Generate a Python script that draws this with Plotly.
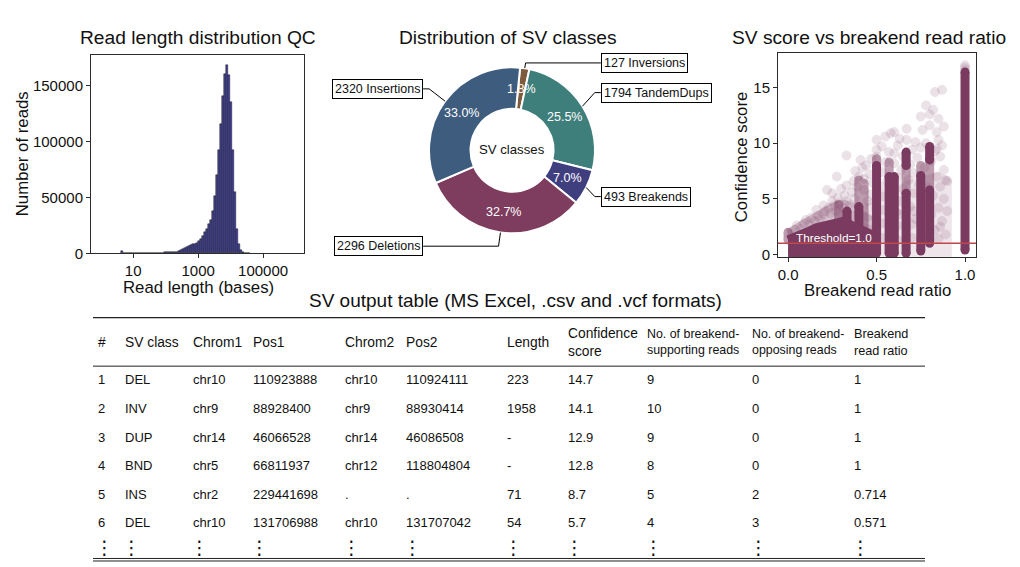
import math
import plotly.graph_objects as go

W, H = 1020, 567
FIG_H = 576  # page height; the photographed page is scaled back to 567 px
FONT = "Liberation Sans, Arial, sans-serif"

# ---------------- data ----------------
# Read-length histogram (bins in log10(bases))
hist_bin_start_log10 = 0.666
hist_bin_width_log10 = 0.062
hist_counts = [1800, 400, 300, 500, 450, 500, 550, 500, 550, 600,
               600, 650, 600, 650, 700, 650, 700, 700, 750, 700,
               750, 800, 850, 900, 1000, 1100, 1300, 1600, 2000, 2700,
               3600, 4700, 5500, 6500, 7200, 8000, 8700, 9500, 10800, 12500,
               15500, 19000, 22000, 26000, 30000, 38000, 51000, 70000, 92000, 115000,
               140000, 160000, 168000, 159000, 135000, 92000, 55000, 22000, 8000, 3000,
               1000, 400, 200, 100]
hist_tick_log10 = [1, 3, 5]
hist_y_ticks = [0, 50000, 100000, 150000]

# SV classes
sv_labels = ["Inversions", "TandemDups", "Breakends", "Deletions", "Insertions"]
sv_counts = [127, 1794, 493, 2296, 2320]

# Score vs breakend read ratio
threshold = 1.0
core_ratio = [0.0, 0.04, 0.08, 0.12, 0.16, 0.20, 0.24, 0.28, 0.32, 0.36, 0.40, 0.44, 0.47]
core_top = [1.3, 1.5, 1.8, 2.1, 2.4, 2.6, 2.8, 3.0, 3.0, 2.6, 2.3, 2.0, 1.8]
core_halo_top = [1.9, 2.3, 2.7, 3.1, 3.5, 3.8, 4.1, 4.4, 4.5, 4.2, 3.8, 3.4, 3.0]
core_bottom = 0.15
band_ratio = [0.47, 0.55, 0.62, 0.70, 0.78, 0.85, 0.90]
band_top = [4.5, 5.5, 6.0, 6.3, 6.8, 7.0, 6.5]
band_bottom = 0.2
stripe_ratio = [0.333, 0.4, 0.5, 0.571, 0.6, 0.667, 0.667, 0.75, 0.8, 0.8, 1.0]
stripe_low = [0.1, 0.1, 0.1, 0.1, 0.1, 0.1, 8.0, 0.3, 1.0, 8.5, 0.4]
stripe_high = [3.9, 4.3, 8.0, 7.0, 7.0, 5.5, 9.2, 7.1, 5.8, 9.7, 16.4]
medium_ratio = [0.4, 0.429, 0.5, 0.571, 0.667, 0.75, 0.8, 0.0, 0.286]
medium_low = [4.3, 0.5, 8.0, 7.0, 5.5, 7.1, 5.8, 1.3, 3.0]
medium_high = [6.7, 6.4, 8.6, 8.3, 8.0, 8.0, 8.5, 2.0, 4.5]
faint_points = [
    (0.02, 1.9), (0.04, 2.2), (0.05, 2.6), (0.07, 2.3), (0.09, 2.8), (0.10, 3.1),
    (0.12, 2.7), (0.13, 3.3), (0.15, 3.0), (0.16, 4.0), (0.17, 3.5), (0.18, 3.2),
    (0.20, 3.6), (0.20, 4.4), (0.21, 3.9), (0.22, 5.8), (0.23, 4.2), (0.24, 3.7),
    (0.25, 4.8), (0.25, 5.5), (0.26, 4.4), (0.27, 3.9), (0.275, 7.0), (0.28, 5.1),
    (0.29, 4.6), (0.30, 5.9), (0.31, 4.2), (0.32, 5.3), (0.33, 4.8), (0.33, 6.2),
    (0.33, 8.9), (0.35, 4.5), (0.36, 5.6), (0.37, 6.6), (0.375, 5.0), (0.38, 7.5),
    (0.39, 6.1), (0.40, 7.0), (0.41, 8.5), (0.42, 7.8), (0.43, 5.8), (0.43, 6.8),
    (0.44, 8.0), (0.45, 4.8), (0.46, 7.2), (0.47, 5.4), (0.47, 8.6), (0.48, 6.4),
    (0.50, 8.8), (0.50, 9.4), (0.50, 10.3), (0.52, 6.1), (0.53, 7.4), (0.53, 9.7),
    (0.54, 5.2), (0.55, 8.3), (0.55, 10.6), (0.56, 6.6), (0.57, 9.2), (0.58, 10.9),
    (0.59, 5.6), (0.60, 8.2), (0.60, 9.1), (0.60, 11.0), (0.61, 3.8), (0.62, 6.9),
    (0.62, 9.8), (0.63, 4.8), (0.63, 10.4), (0.64, 7.6), (0.65, 5.9), (0.65, 8.8),
    (0.67, 10.3), (0.67, 11.3), (0.68, 6.7), (0.69, 4.3), (0.69, 8.1), (0.70, 9.4),
    (0.71, 5.5), (0.71, 7.3), (0.72, 10.1), (0.72, 3.2), (0.73, 8.7), (0.74, 6.3),
    (0.75, 9.6), (0.75, 12.4), (0.76, 11.2), (0.77, 4.6), (0.77, 7.8), (0.78, 13.4),
    (0.78, 10.0), (0.79, 6.0), (0.80, 11.6), (0.80, 12.6), (0.81, 3.6), (0.81, 8.4),
    (0.82, 13.0), (0.82, 5.3), (0.83, 14.6), (0.83, 9.3), (0.83, 2.2), (0.84, 7.0),
    (0.84, 11.0), (0.85, 4.2), (0.85, 12.2), (0.86, 8.8), (0.86, 6.1), (0.87, 14.8),
    (0.87, 3.0), (0.87, 9.8), (0.88, 7.6), (0.88, 5.0), (0.89, 6.7), (0.89, 1.8),
    (0.90, 6.6), (0.90, 3.9), (1.0, 16.8), (1.0, 17.0), (1.0, 16.6),
    (0.36, 1.5), (0.36, 2.5), (0.37, 3.5), (0.45, 1.2), (0.45, 2.3), (0.45, 3.4),
    (0.46, 4.2), (0.53, 1.5), (0.53, 2.8), (0.54, 4.0), (0.62, 1.3), (0.62, 2.6),
    (0.63, 3.6), (0.70, 1.5), (0.70, 2.7), (0.71, 3.9), (0.78, 1.6), (0.78, 2.8),
    (0.79, 3.9), (0.85, 1.4), (0.86, 2.5), (0.84, 9.5), (0.85, 10.3), (0.88, 11.5),
]

# SV output table
table_title = "SV output table (MS Excel, .csv and .vcf formats)"
table_header = ["#", "SV class", "Chrom1", "Pos1", "Chrom2", "Pos2", "Length",
                "Confidence<br>score", "No. of breakend-<br>supporting reads",
                "No. of breakend-<br>opposing reads", "Breakend<br>read ratio"]
col_index = ["1", "2", "3", "4", "5", "6"]
col_class = ["DEL", "INV", "DUP", "BND", "INS", "DEL"]
col_chrom1 = ["chr10", "chr9", "chr14", "chr5", "chr2", "chr10"]
col_pos1 = ["110923888", "88928400", "46066528", "66811937", "229441698", "131706988"]
col_chrom2 = ["chr10", "chr9", "chr14", "chr12", ".", "chr10"]
col_pos2 = ["110924111", "88930414", "46086508", "118804804", ".", "131707042"]
col_length = ["223", "1958", "-", "-", "71", "54"]
col_score = ["14.7", "14.1", "12.9", "12.8", "8.7", "5.7"]
col_support = ["9", "10", "9", "8", "5", "4"]
col_oppose = ["0", "0", "0", "0", "2", "3"]
col_ratio = ["1", "1", "1", "1", "0.714", "0.571"]

# ---------------- layout / style ----------------
def px(x):
    return x / W


def py(y):
    return 1 - y / H


hist_color = "#40409a"
sv_colors = ["#7e5b3c", "#3e7f7c", "#3f3f80", "#7e3d5e", "#3e5c7e"]
dot_color = "#7b3b60"
axis_col = "#2b2b2b"
pie_rotation = 5.6
cx, cy, R = 512, 150, 83
label_k = [1.063, 1.31, 1.245, 1.165, 1.25]
table_cols_x = [96, 123, 191, 251, 343, 404, 505, 566, 645, 750, 852]
header_sizes = [13.8, 13.8, 13.8, 13.8, 13.8, 13.8, 13.8, 13.8, 12.4, 12.4, 12.7]
row_y = [379, 408, 436.5, 465, 493.5, 522]

fig = go.Figure()

# Histogram
fig.add_trace(go.Bar(
    x0=hist_bin_start_log10, dx=hist_bin_width_log10, y=hist_counts,
    width=hist_bin_width_log10,
    marker=dict(color=hist_color, line=dict(color="#1a1a1a", width=0.5)),
    xaxis="x", yaxis="y", showlegend=False, hoverinfo="skip"))

# Donut (pie domain from the pixel centre/radius; width is the limiting side)
fig.add_trace(go.Pie(
    labels=sv_labels, values=sv_counts, sort=False, direction="clockwise",
    rotation=pie_rotation, hole=0.5, textinfo="none",
    marker=dict(colors=sv_colors, line=dict(color="white", width=2)),
    domain=dict(x=[px(cx - R), px(cx + R)], y=[py(cy + R + 2), py(cy - R - 2)]),
    showlegend=False, hoverinfo="label+value"))

# Scatter: pale band of overlapping points between the columns
fig.add_trace(go.Scatter(
    x=band_ratio + band_ratio[::-1],
    y=band_top + [band_bottom] * len(band_ratio),
    fill="toself", fillcolor=dot_color, mode="lines",
    line=dict(color=dot_color, width=9), opacity=0.13,
    xaxis="x2", yaxis="y2", showlegend=False, hoverinfo="skip"))

# Scatter: faint individual points
fig.add_trace(go.Scatter(
    x=[p[0] for p in faint_points], y=[p[1] for p in faint_points],
    mode="markers", xaxis="x2", yaxis="y2", showlegend=False, hoverinfo="skip",
    marker=dict(size=9, color=dot_color, opacity=0.14,
                line=dict(color=dot_color, width=1))))

# dense low-ratio mass (halo then core)
for top, op in ((core_halo_top, 0.3), (core_top, 1.0)):
    fig.add_trace(go.Scatter(
        x=core_ratio + core_ratio[::-1],
        y=top + [core_bottom] * len(core_ratio),
        fill="toself", fillcolor=dot_color, mode="lines",
        line=dict(color=dot_color, width=9), opacity=op,
        xaxis="x2", yaxis="y2", showlegend=False, hoverinfo="skip"))


def stripes(rs, lo, hi):
    xs, ys = [], []
    for r, a, b in zip(rs, lo, hi):
        xs += [r, r, None]
        ys += [a, b, None]
    return xs, ys


for rs, lo, hi, op in ((medium_ratio, medium_low, medium_high, 0.5),
                       (stripe_ratio, stripe_low, stripe_high, 1.0)):
    xs, ys = stripes(rs, lo, hi)
    fig.add_trace(go.Scatter(
        x=xs, y=ys, mode="lines+markers", opacity=op,
        line=dict(color=dot_color, width=9),
        marker=dict(size=9, color=dot_color),
        xaxis="x2", yaxis="y2", showlegend=False, hoverinfo="skip"))

annotations = []
shapes = []


def ann(x, y, text, size, color="#111111", xanchor="center", yanchor="middle",
        family=FONT, **kw):
    d = dict(x=px(x), y=py(y), xref="paper", yref="paper", text=text, showarrow=False,
             xanchor=xanchor, yanchor=yanchor,
             font=dict(family=family, size=size, color=color))
    d.update(kw)
    annotations.append(d)


# Titles
ann(198, 37, "Read length distribution QC", 19.2)
ann(508, 37, "Distribution of SV classes", 19.2)
ann(869, 37, "SV score vs breakend read ratio", 19.2)
ann(198, 286.5, "Read length (bases)", 16.8)
ann(22, 154, "Number of reads", 16.8, textangle=-90)
ann(877, 289.5, "Breakend read ratio", 16.8)
ann(741, 157, "Confidence score", 16.8, textangle=-90)

# Donut labels
total = sum(sv_counts)
acc = 0
for lab, cnt, k in zip(sv_labels, sv_counts, label_k):
    a0 = pie_rotation + acc / total * 360
    acc += cnt
    a1 = pie_rotation + acc / total * 360
    mid = math.radians((a0 + a1) / 2)
    ux, uy = math.sin(mid), math.cos(mid)
    ann(cx + 0.75 * R * ux, cy - 0.75 * R * uy, f"{cnt / total * 100:.1f}%", 12.5, color="white")
    side = 1 if ux >= 0 else -1
    ly = cy - k * R * uy
    ex = cx + side * 1.07 * R
    wx, wy = cx + R * ux, cy - R * uy
    t = (wy - ly) / uy if abs(uy) > 1e-6 else 0
    elx = wx + t * ux
    elx = min(elx, ex - 6) if side > 0 else max(elx, ex + 6)
    shapes.append(dict(type="path", xref="paper", yref="paper",
                       path=f"M {px(ex)},{py(ly)} L {px(elx)},{py(ly)} L {px(wx)},{py(wy)}",
                       line=dict(color="black", width=1)))
    ann(ex, ly, f"{cnt} {lab}", 12.5, xanchor="left" if side > 0 else "right",
        bgcolor="white", bordercolor="black", borderwidth=1, borderpad=2)
ann(cx, cy - 1, "SV classes", 13.2)

# Threshold
shapes.append(dict(type="line", xref="x2 domain", yref="y2", x0=0, x1=1,
                   y0=threshold, y1=threshold, line=dict(color="#c0474a", width=1.5)))
annotations.append(dict(x=0.035, y=threshold + 0.45, xref="x2", yref="y2",
                        text=f"Threshold={threshold}", showarrow=False,
                        xanchor="left", yanchor="middle",
                        font=dict(family=FONT, size=11.8, color="white")))

# Table
ann(515, 300, table_title, 19)
for y0, w in ((317, 1.2), (365.5, 1), (557.5, 1), (560, 1)):
    shapes.append(dict(type="line", xref="paper", yref="paper", x0=px(93), x1=px(925),
                       y0=py(y0), y1=py(y0), line=dict(color="#222222", width=w)))
columns = [col_index, col_class, col_chrom1, col_pos1, col_chrom2, col_pos2,
           col_length, col_score, col_support, col_oppose, col_ratio]
for cx_t, head, hs, col in zip(table_cols_x, table_header, header_sizes, columns):
    ann(cx_t, 341.5, head, hs, xanchor="left", align="left")
    for yv, val in zip(row_y, col):
        ann(cx_t, yv, val, 13, xanchor="left")
    ann(cx_t - 3, 546.5, "\u22ee", 19, xanchor="left", family="DejaVu Sans")

axis_common = dict(showline=True, linecolor=axis_col, linewidth=1, mirror=True,
                   ticks="outside", ticklen=4, tickcolor=axis_col, showgrid=False,
                   zeroline=False, tickfont=dict(family=FONT, size=15, color="#111111"))

fig.update_layout(
    width=W, height=FIG_H, autosize=False,
    margin=dict(l=0, r=0, t=0, b=0),
    paper_bgcolor="white", plot_bgcolor="white",
    bargap=0,
    xaxis=dict(domain=[px(91), px(304)], range=[-0.3, 6.26], anchor="y",
               tickvals=hist_tick_log10, ticktext=[str(10 ** v) for v in hist_tick_log10],
               **axis_common),
    yaxis=dict(domain=[py(253), py(55)], range=[0, 177000], anchor="x",
               tickvals=hist_y_ticks, tickformat="d", **axis_common),
    xaxis2=dict(domain=[px(778), px(976)], range=[-0.057, 1.062], anchor="y2",
                tickvals=[0, 0.5, 1.0], tickformat=".1f", **axis_common),
    yaxis2=dict(domain=[py(257), py(53)], range=[-0.27, 18.1], anchor="x2",
                tickvals=[0, 5, 10, 15], **axis_common),
    annotations=annotations,
    shapes=shapes,
)

no_margin = (
    "document.documentElement.style.margin='0';"
    "document.body.style.margin='0';"
)
fig.write_html("out.html", config={"displayModeBar": False}, post_script=no_margin)
